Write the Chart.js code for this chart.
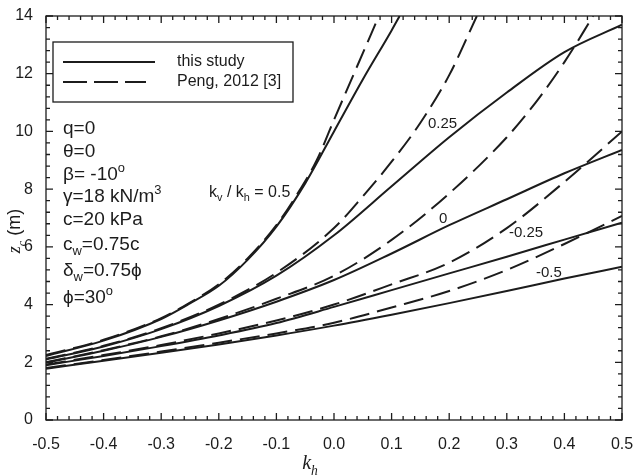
<!DOCTYPE html>
<html>
<head>
<meta charset="utf-8">
<script src="https://cdn.jsdelivr.net/npm/chart.js@4.4.1/dist/chart.umd.min.js"></script>
<style>
  html, body { margin: 0; padding: 0; background: #fff; }
  canvas { display: block; }
</style>
</head>
<body>
<canvas id="chart" width="633" height="475"></canvas>
<script>
// tick values
const xTicks = [-0.5, -0.4, -0.3, -0.2, -0.1, 0, 0.1, 0.2, 0.3, 0.4, 0.5];
const yTicks = [0, 2, 4, 6, 8, 10, 12, 14];

// common k_h grid
const khFull = [-0.5, -0.4, -0.3, -0.2, -0.1, 0, 0.1, 0.2, 0.3, 0.4, 0.5];

// this study (solid), kv/kh = 0.5, 0.25, 0, -0.25, -0.5
const khStudyP05 = [-0.5, -0.4, -0.3, -0.25, -0.2, -0.15, -0.1, -0.05, 0, 0.05, 0.1, 0.114];
const zcStudyP05 = [2.22, 2.75, 3.5, 4.04, 4.65, 5.55, 6.7, 8.2, 10.0, 11.8, 13.5, 14.0];
const zcStudyP025 = [2.10, 2.55, 3.15, 3.95, 5.0, 6.4, 8.1, 9.8, 11.35, 12.75, 13.7];
const zcStudy0 = [1.99, 2.4, 2.88, 3.45, 4.1, 4.85, 5.77, 6.75, 7.65, 8.55, 9.36];
const zcStudyM025 = [1.90, 2.22, 2.56, 2.93, 3.36, 3.92, 4.5, 5.08, 5.66, 6.25, 6.84];
const zcStudyM05 = [1.78, 2.05, 2.33, 2.62, 2.93, 3.27, 3.65, 4.05, 4.47, 4.9, 5.31];

// Peng, 2012 (dashed)
const khPengP05 = [-0.5, -0.4, -0.3, -0.25, -0.2, -0.15, -0.1, -0.06, -0.03, 0, 0.04, 0.078];
const zcPengP05 = [2.25, 2.78, 3.53, 4.07, 4.7, 5.6, 6.75, 7.95, 9.0, 10.4, 12.25, 14.0];
const khPengP025 = [-0.5, -0.4, -0.3, -0.2, -0.1, 0, 0.05, 0.1, 0.15, 0.2, 0.248];
const zcPengP025 = [2.12, 2.57, 3.18, 4.0, 5.1, 6.65, 7.75, 8.95, 10.3, 11.95, 14.0];
const khPeng0 = [-0.5, -0.4, -0.3, -0.2, -0.1, 0, 0.1, 0.2, 0.3, 0.35, 0.4, 0.45];
const zcPeng0 = [2.0, 2.42, 2.9, 3.5, 4.2, 5.0, 6.24, 7.85, 9.8, 11.0, 12.4, 14.0];
const zcPengM025 = [1.92, 2.25, 2.6, 3.0, 3.45, 4.0, 4.7, 5.45, 6.65, 8.25, 10.0];
const zcPengM05 = [1.8, 2.08, 2.37, 2.68, 3.0, 3.37, 3.9, 4.47, 5.2, 6.1, 7.07];

const INK = '#1c1c1c';
const SANS = '"Liberation Sans", Arial, Helvetica, sans-serif';
const SERIF = '"Liberation Serif", "Times New Roman", serif';
const DASH = [20, 8];

function series(kh, zc, dashed) {
  return {
    data: kh.map((x, i) => ({ x: x, y: zc[i] })),
    borderColor: INK,
    borderWidth: 2,
    borderDash: dashed ? DASH : [],
    pointRadius: 0,
    fill: false,
    cubicInterpolationMode: 'monotone'
  };
}

const datasets = [
  series(khStudyP05, zcStudyP05, false),
  series(khFull, zcStudyP025, false),
  series(khFull, zcStudy0, false),
  series(khFull, zcStudyM025, false),
  series(khFull, zcStudyM05, false),
  series(khPengP05, zcPengP05, true),
  series(khPengP025, zcPengP025, true),
  series(khPeng0, zcPeng0, true),
  series(khFull, zcPengM025, true),
  series(khFull, zcPengM05, true)
];

// draw text made of parts: {t, sub, sup, it, fam}
function richText(ctx, x, cy, parts, size, family, align) {
  const fontFor = p => (p.it ? 'italic ' : '') + ((p.sub || p.sup) ? size * 0.68 : size) + 'px ' + (p.fam || family);
  let total = 0;
  parts.forEach(p => { ctx.font = fontFor(p); total += ctx.measureText(p.t).width; });
  let cx = align === 'center' ? x - total / 2 : x;
  const base = cy + size * 0.36;
  ctx.textAlign = 'left';
  ctx.textBaseline = 'alphabetic';
  parts.forEach(p => {
    ctx.font = fontFor(p);
    let dy = 0;
    if (p.sub) dy = size * 0.28;
    if (p.sup) dy = -size * 0.42;
    ctx.fillText(p.t, cx, base + dy);
    cx += ctx.measureText(p.t).width;
  });
}

const framePlugin = {
  id: 'frame',
  afterDraw(chart) {
    const { ctx, chartArea: a, scales: { x, y } } = chart;
    ctx.save();
    ctx.strokeStyle = INK;
    ctx.fillStyle = INK;
    ctx.lineWidth = 1.3;
    ctx.strokeRect(a.left, a.top, a.right - a.left, a.bottom - a.top);

    // inward ticks on all four sides
    ctx.beginPath();
    for (let i = 0; i <= 50; i++) {
      const px = x.getPixelForValue(-0.5 + i * 0.02);
      const len = i % 5 === 0 ? 7 : 4;
      ctx.moveTo(px, a.bottom); ctx.lineTo(px, a.bottom - len);
      ctx.moveTo(px, a.top); ctx.lineTo(px, a.top + len);
    }
    for (let i = 0; i <= 35; i++) {
      const py = y.getPixelForValue(i * 0.4);
      const len = i % 5 === 0 ? 7 : 4;
      ctx.moveTo(a.left, py); ctx.lineTo(a.left + len, py);
      ctx.moveTo(a.right, py); ctx.lineTo(a.right - len, py);
    }
    ctx.stroke();

    // legend
    ctx.fillStyle = '#fff';
    ctx.fillRect(53, 42, 240, 60);
    ctx.strokeRect(53, 42, 240, 60);
    ctx.lineWidth = 2;
    ctx.beginPath();
    ctx.moveTo(63, 62); ctx.lineTo(155, 62);
    ctx.stroke();
    ctx.setLineDash([24, 7]);
    ctx.beginPath();
    ctx.moveTo(63, 82); ctx.lineTo(146, 82);
    ctx.stroke();
    ctx.setLineDash([]);
    ctx.fillStyle = INK;
    ctx.font = '16px ' + SANS;
    ctx.textBaseline = 'middle';
    ctx.fillText('this study', 177, 62);
    ctx.fillText('Peng, 2012 [3]', 177, 82);

    // parameter block
    const fs = 19;
    const lines = [
      [127, [{ t: 'q=0' }]],
      [150, [{ t: 'θ=0' }]],
      [173, [{ t: 'β= -10' }, { t: 'o', sup: true }]],
      [195, [{ t: 'γ=18 kN/m' }, { t: '3', sup: true }]],
      [218, [{ t: 'c=20 kPa' }]],
      [243, [{ t: 'c' }, { t: 'w', sub: true }, { t: '=0.75c' }]],
      [269, [{ t: 'δ' }, { t: 'w', sub: true }, { t: '=0.75ϕ' }]],
      [296, [{ t: 'ϕ=30' }, { t: 'o', sup: true }]]
    ];
    lines.forEach(([cy, parts]) => richText(ctx, 63, cy, parts, fs, SANS, 'left'));

    // curve labels
    richText(ctx, 209, 191, [{ t: 'k' }, { t: 'v', sub: true }, { t: ' / k' }, { t: 'h', sub: true }, { t: ' = 0.5' }], 16, SANS, 'left');
    richText(ctx, 428, 123, [{ t: '0.25' }], 15, SANS, 'left');
    richText(ctx, 439, 218, [{ t: '0' }], 15, SANS, 'left');
    richText(ctx, 509, 232, [{ t: '-0.25' }], 15, SANS, 'left');
    richText(ctx, 536, 272, [{ t: '-0.5' }], 15, SANS, 'left');

    // axis titles
    richText(ctx, 310, 462, [{ t: 'k', it: true }, { t: 'h', sub: true, it: true }], 20, SERIF, 'center');
    ctx.translate(14, 231);
    ctx.rotate(-Math.PI / 2);
    richText(ctx, 0, 0, [{ t: 'z', it: true, fam: SERIF }, { t: 'c', sub: true, it: true, fam: SERIF }, { t: ' (m)' }], 18, SANS, 'center');
    ctx.restore();
  }
};

// keep chart area fixed: no extra padding for overhanging tick labels
function noPad(s) {
  s.paddingLeft = 0; s.paddingRight = 0; s.paddingTop = 0; s.paddingBottom = 0;
}

new Chart(document.getElementById('chart'), {
  type: 'line',
  data: { datasets: datasets },
  options: {
    responsive: false,
    animation: false,
    devicePixelRatio: 1,
    layout: { padding: { left: 0, right: 11, top: 16, bottom: 0 } },
    plugins: { legend: { display: false }, tooltip: { enabled: false } },
    scales: {
      x: {
        type: 'linear', min: -0.5, max: 0.5,
        grid: { display: false, drawTicks: false },
        border: { display: false },
        afterBuildTicks: s => { s.ticks = xTicks.map(v => ({ value: v })); },
        afterFit: s => { s.height = 55; noPad(s); },
        ticks: {
          padding: 15, color: INK, autoSkip: false, maxRotation: 0,
          font: { family: SANS, size: 16 },
          callback: v => (Math.abs(v) < 1e-9 ? 0 : v).toFixed(1)
        }
      },
      y: {
        type: 'linear', min: 0, max: 14,
        grid: { display: false, drawTicks: false },
        border: { display: false },
        afterBuildTicks: s => { s.ticks = yTicks.map(v => ({ value: v })); },
        afterFit: s => { s.width = 46; noPad(s); },
        ticks: {
          padding: 13, color: INK,
          font: { family: SANS, size: 16 }
        }
      }
    }
  },
  plugins: [framePlugin]
});
</script>
</body>
</html>
